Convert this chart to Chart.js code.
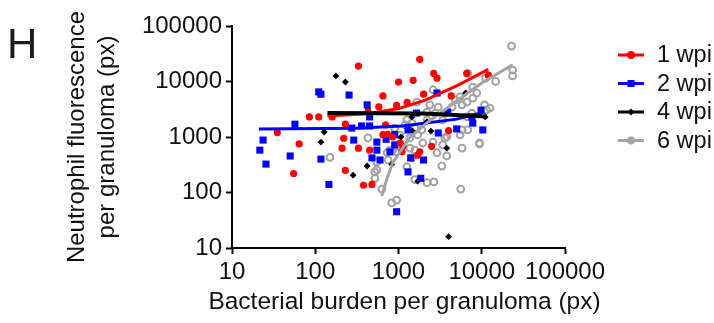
<!DOCTYPE html>
<html>
<head>
<meta charset="utf-8">
<script src="https://cdn.jsdelivr.net/npm/chart.js@4.4.1/dist/chart.umd.min.js"></script>
<style>
  html, body { margin: 0; padding: 0; background: #fff; }
  #wrap { position: relative; width: 714px; height: 323px; }
  #panel { position: absolute; left: 7px; top: 23px; font: 42px/1 'Liberation Sans', Arial, sans-serif; color: #1a1a1a; }
</style>
</head>
<body>
<div id="wrap">
  <canvas id="chartH" width="714" height="323"></canvas>
  <div id="panel">H</div>
</div>
<script>
// [bacterial burden, neutrophil fluorescence] per granuloma
var wpi1 = [[330,19000],[1800,25000],[2650,14000],[2900,11500],[6600,14000],[12000,13000],[1000,9800],[1500,10500],
	[650,5500],[2000,5900],[4300,5500],[85,2300],[110,2300],[160,2300],[35,1200],[64,750],[55,220],[230,1700],
	[220,950],[210,630],[330,630],[450,580],[580,3500],[430,2800],[650,1100],[740,1120],[850,1000],[230,250],
	[380,135],[480,140],[1130,680],[1100,540],[1700,470],[1800,540],[4000,1300],[2500,680],[1270,4200],[950,3700],
	[700,1650],[1050,780]];
var wpi2 = [[23.6,880],[21.6,580],[25.6,325],[57,1700],[50,455],[110,6500],[117,5900],[117,400],[146,140],[255,5700],
	[420,3800],[360,1580],[275,1450],[450,1580],[450,2300],[710,910],[550,580],[290,880],[550,810],[480,420],
	[600,385],[900,1100],[900,720],[950,45],[1300,235],[1850,180],[2000,385],[1400,420],[790,540],[1300,1340],
	[1650,2700],[2900,6200],[5000,1400],[7600,2300],[10300,1340],[7800,1780],[3000,1180],[3900,2800],[9800,3050]];
var wpi4 = [[177,12600],[230,9800],[128,1230],[117,810],[285,205],[420,300],[430,3200],[1070,1000],[1480,1280],
	[1700,160],[3800,630],[4000,16],[1450,2300],[6400,6200],[11000,2300],[830,320],[2450,1280],[2200,1900]];
var wpi6 = [[2600,7100],[6800,14000],[7800,7900],[10800,3800],[12500,3300],[5800,1340],[9400,780],[430,960],[150,430],
	[2200,2800],[1260,2040],[1660,4260],[4400,3450],[3400,2040],[6650,2300],[2600,810],[3800,1000],[790,580],[1040,660],
	[22800,43500],[23500,16000],[23500,12600],[14700,10000],[11100,11500],[8700,6200],[7800,5000],[6650,4260],[5500,5300],
	[5800,3800],[11400,3070],[4800,4650],[3800,2800],[3000,3450],[2380,3800],[2750,2700],[2200,2040],[7600,2700],
	[730,520],[850,580],[550,355],[520,235],[630,115],[830,65],[950,73],[1570,170],[2200,150],[2660,155],[3320,300],
	[2900,520],[3400,720],[5800,630],[9400,750],[5600,115],[1570,580],[1370,960],[750,385],[550,255],[520,180],
	[1260,290],[1450,420],[950,540],[1370,630],[1960,780],[1700,1090],[980,720],[3800,455],[5500,1090],[6800,1340],
	[3600,960],[1200,1650],[1570,1450],[1900,1340],[1450,1800],[900,1450],[1040,1090]];

// fitted curves as drawn in the figure
var fit1 = [[140,2400],[450,2650],[1000,3250],[2100,4600],[5200,8600],[12000,16500]];
var fit2 = [[21,1400],[300,1440],[1100,1580],[5000,2100],[10500,2800]];
var fit4 = [[140,2700],[2000,2650],[11500,2350]];
var fit6 = [[630,87],[730,180],[850,340],[1380,1000],[2200,1800],[4800,4260],[10000,9400],[23500,20000]];

var groupLabels = ['1 wpi', '2 wpi', '4 wpi', '6 wpi'];
var groupColors = ['#ff0000', '#0000ff', '#000000', '#a3a3a3'];
var groupMarkers = ['circle', 'square', 'diamond', 'circle'];
var axisTicks = [10, 100, 1000, 10000, 100000];
var xTitle = 'Bacterial burden per granuloma (px)';
var yTitle = ['Neutrophil fluorescence', 'per granuloma (px)'];

var fontFamily = "'Liberation Sans', Arial, sans-serif";
Chart.defaults.font.family = fontFamily;
Chart.defaults.color = '#111';

function toXY(pairs) {
	return pairs.map(function (p) { return { x: p[0], y: p[1] }; });
}

function fitLine(pairs, color, width) {
	return {
		data: toXY(pairs),
		showLine: true,
		borderColor: color,
		borderWidth: width,
		pointRadius: 0,
		fill: false
	};
}

function drawMarker(ctx, kind, x, y, color) {
	ctx.fillStyle = color;
	ctx.beginPath();
	if (kind === 'square') {
		ctx.rect(x - 3.5, y - 3.5, 7, 7);
	} else if (kind === 'diamond') {
		ctx.moveTo(x, y - 3.5); ctx.lineTo(x + 3.5, y); ctx.lineTo(x, y + 3.5); ctx.lineTo(x - 3.5, y);
		ctx.closePath();
	} else {
		ctx.arc(x, y, 4, 0, Math.PI * 2);
	}
	ctx.fill();
}

// legend on the right and the x title (chart.js would squeeze it to the axis width)
var extrasPlugin = {
	id: 'wpiExtras',
	afterDraw: function (chart) {
		var ctx = chart.ctx;
		var area = chart.chartArea;
		var x0 = area.right + 53;
		var x1 = x0 + 26;
		ctx.save();
		groupLabels.forEach(function (label, i) {
			var y = area.top + 29 + i * 28.5;
			ctx.strokeStyle = groupColors[i];
			ctx.lineWidth = 3;
			ctx.beginPath();
			ctx.moveTo(x0, y);
			ctx.lineTo(x1, y);
			ctx.stroke();
			drawMarker(ctx, groupMarkers[i], (x0 + x1) / 2, y, groupColors[i]);
			ctx.fillStyle = '#111';
			ctx.font = '23.5px ' + fontFamily;
			ctx.textAlign = 'left';
			ctx.textBaseline = 'middle';
			ctx.fillText(label, x1 + 13, y + 1);
		});
		ctx.font = '24.5px ' + fontFamily;
		ctx.textAlign = 'center';
		ctx.textBaseline = 'middle';
		ctx.fillStyle = '#111';
		ctx.fillText(xTitle, (area.left + area.right) / 2 + 6, area.bottom + 54);
		ctx.restore();
	}
};

function logAxis() {
	return {
		type: 'logarithmic',
		min: 10,
		max: 100000,
		afterBuildTicks: function (scale) {
			scale.ticks = axisTicks.map(function (v) { return { value: v }; });
		},
		ticks: {
			color: '#111',
			font: { size: 24 },
			padding: 4,
			autoSkip: false,
			maxRotation: 0,
			minRotation: 0,
			callback: function (v) { return String(v); }
		},
		grid: {
			display: true,
			drawOnChartArea: false,
			drawTicks: true,
			tickLength: 6,
			tickWidth: 2,
			tickColor: '#000'
		},
		border: { display: true, color: '#000', width: 2 }
	};
}

var xAxis = logAxis();
xAxis.afterFit = function (scale) { scale.height = 75; };

var yAxis = logAxis();
yAxis.title = {
	display: true,
	text: yTitle,
	color: '#111',
	font: { size: 24, lineHeight: 1.25 },
	padding: { top: 62, bottom: 0 }
};
yAxis.afterFit = function (scale) { scale.width = 232; };

var ctx = document.getElementById('chartH').getContext('2d');
new Chart(ctx, {
	type: 'scatter',
	data: {
		datasets: [
			fitLine(fit4, '#000000', 4),
			fitLine(fit6, '#a3a3a3', 3),
			fitLine(fit2, '#0000ff', 3),
			fitLine(fit1, '#ff0000', 3),
			{
				label: '1 wpi', data: toXY(wpi1), pointStyle: 'circle', pointRadius: 3.6,
				backgroundColor: '#ff0000', borderColor: '#ff0000', borderWidth: 0
			},
			{
				label: '2 wpi', data: toXY(wpi2), pointStyle: 'rect', pointRadius: 5,
				backgroundColor: '#0000ff', borderColor: '#0000ff', borderWidth: 0
			},
			{
				label: '4 wpi', data: toXY(wpi4), pointStyle: 'rectRot', pointRadius: 3.4,
				backgroundColor: '#000000', borderColor: '#000000', borderWidth: 0
			},
			{
				label: '6 wpi', data: toXY(wpi6), pointStyle: 'circle', pointRadius: 3.4,
				backgroundColor: 'rgba(0,0,0,0)', borderColor: '#a3a3a3', borderWidth: 2
			}
		]
	},
	options: {
		responsive: false,
		animation: false,
		layout: { padding: { left: 0, right: 149, top: 26, bottom: 0 } },
		plugins: {
			legend: { display: false },
			tooltip: { enabled: false }
		},
		scales: { x: xAxis, y: yAxis }
	},
	plugins: [extrasPlugin]
});
</script>
</body>
</html>
